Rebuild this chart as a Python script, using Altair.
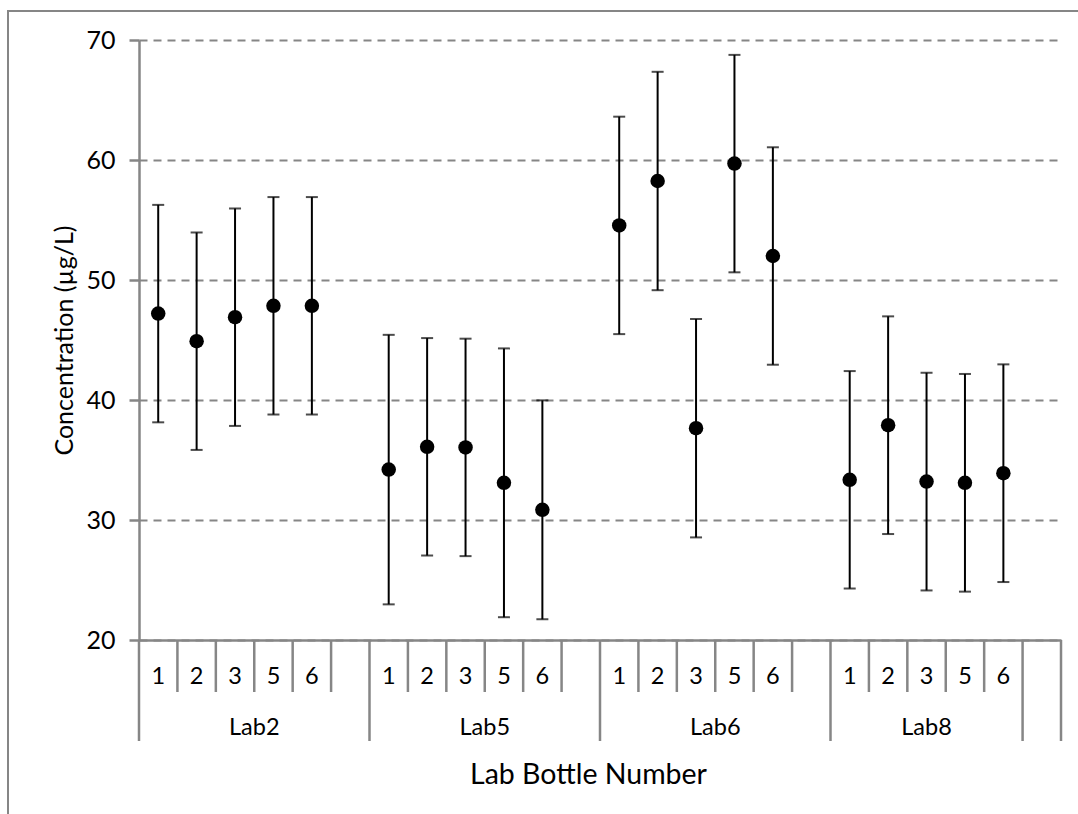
import altair as alt
import pandas as pd

# Category structure of the x axis: lab groups and the bottle slots inside them
labs = ["Lab2", "Lab5", "Lab6", "Lab8"]
bottles = ["1", "2", "3", "5", "6"]
group_slots = {
    "Lab2": ["1", "2", "3", "5", "6", ""],
    "Lab5": ["1", "2", "3", "5", "6", ""],
    "Lab6": ["1", "2", "3", "5", "6", ""],
    "Lab8": ["1", "2", "3", "5", "6"],
    "": [""],
}

# Mean concentration (µg/L) per bottle, and the half-width of each error bar
mean_lab2 = [47.2, 44.9, 46.9, 47.85, 47.85]
mean_lab5 = [34.2, 36.1, 36.05, 33.1, 30.85]
mean_lab6 = [54.55, 58.25, 37.65, 59.7, 52.0]
mean_lab8 = [33.35, 37.9, 33.2, 33.1, 33.9]

err_lab2 = [9.06, 9.06, 9.06, 9.06, 9.06]
err_lab5 = [11.23, 9.06, 9.06, 11.2, 9.12]
err_lab6 = [9.06, 9.1, 9.1, 9.06, 9.06]
err_lab8 = [9.06, 9.07, 9.07, 9.07, 9.07]

means = dict(zip(labs, [mean_lab2, mean_lab5, mean_lab6, mean_lab8]))
errs = dict(zip(labs, [err_lab2, err_lab5, err_lab6, err_lab8]))

# Lay the slots out along a continuous axis, one unit per slot
slot_rows, group_rows, bound_rows, point_rows = [], [], [], []
pos = 0
for g, slots in group_slots.items():
    bound_rows.append({"pos": pos, "kind": "group"})
    start = pos
    for k, s in enumerate(slots):
        if k > 0:
            bound_rows.append({"pos": pos, "kind": "slot"})
        slot_rows.append({"pos": pos + 0.5, "label": s})
        if g in means and s in bottles:
            i = bottles.index(s)
            m, e = means[g][i], errs[g][i]
            point_rows.append({"pos": pos + 0.5, "lab": g, "bottle": s,
                               "v": m, "lo": m - e, "hi": m + e})
        pos += 1
    group_rows.append({"pos": (start + pos) / 2, "label": g})
bound_rows.append({"pos": pos, "kind": "group"})
n_slots = pos

points = pd.DataFrame(point_rows)
slots_df = pd.DataFrame(slot_rows)
groups_df = pd.DataFrame(group_rows)
bounds_df = pd.DataFrame(bound_rows)

GRAY = "#868686"
FONT = "Lato"
W, H = 922, 600

xscale = alt.Scale(domain=[0, n_slots], nice=False, zero=False)
yscale = alt.Scale(domain=[20, 70], nice=False, zero=False)
xaxis = alt.Axis(
    title="Lab Bottle Number", labels=False, ticks=False, grid=False,
    domainColor=GRAY, domainWidth=2.5,
    titleFont=FONT, titleFontSize=28.5, titleFontWeight="normal", titleColor="black",
    titleX=449, titleY=143, titleBaseline="alphabetic",
)
yaxis = alt.Axis(
    title="Concentration (µg/L)", values=[20, 30, 40, 50, 60, 70],
    domainColor=GRAY, domainWidth=2.5, tickColor=GRAY, tickWidth=2.5, tickSize=10,
    labelFont=FONT, labelFontSize=25, labelColor="black", labelPadding=14,
    grid=True, gridColor=GRAY, gridDash=[8, 6], gridWidth=2,
    titleFont=FONT, titleFontSize=25, titleFontWeight="normal", titleColor="black",
    titleAngle=270, titleX=-67, titleY=H / 2, titleBaseline="alphabetic",
)

X = alt.X("pos:Q", scale=xscale, axis=xaxis)

# Outer chart frame
frame = alt.Chart(pd.DataFrame({"f": [0]})).mark_rect(
    fillOpacity=0, stroke=GRAY, strokeWidth=2
).encode(
    x=alt.value(-131), x2=alt.value(W + 200),
    y=alt.value(-29), y2=alt.value(H + 300),
)

# Error bars: vertical whisker plus end caps
whisker = alt.Chart(points).mark_rule(color="black", strokeWidth=2).encode(
    x=X, y=alt.Y("lo:Q", scale=yscale, axis=yaxis), y2="hi:Q"
)
cap_lo = alt.Chart(points).mark_tick(
    color="black", thickness=2, size=12, orient="horizontal"
).encode(x=X, y=alt.Y("lo:Q", scale=yscale, axis=yaxis))
cap_hi = alt.Chart(points).mark_tick(
    color="black", thickness=2, size=12, orient="horizontal"
).encode(x=X, y=alt.Y("hi:Q", scale=yscale, axis=yaxis))

dots = alt.Chart(points).mark_circle(color="black", opacity=1, size=210).encode(
    x=X, y=alt.Y("v:Q", scale=yscale, axis=yaxis),
    tooltip=["lab", "bottle", "v"],
)

# Two-level category axis below the plot
slot_ticks = alt.Chart(bounds_df).transform_filter(
    alt.datum.kind == "slot"
).mark_rule(color=GRAY, strokeWidth=2.5).encode(
    x=X, y=alt.value(H), y2=alt.value(H + 52)
)
group_ticks = alt.Chart(bounds_df).transform_filter(
    alt.datum.kind == "group"
).mark_rule(color=GRAY, strokeWidth=2.5).encode(
    x=X, y=alt.value(H), y2=alt.value(H + 101)
)
slot_text = alt.Chart(slots_df).mark_text(
    font=FONT, fontSize=23.5, color="black", baseline="alphabetic", align="center"
).encode(x=X, y=alt.value(H + 44), text="label:N")
group_text = alt.Chart(groups_df).mark_text(
    font=FONT, fontSize=23.5, color="black", baseline="alphabetic", align="center"
).encode(x=X, y=alt.value(H + 95), text="label:N")

chart = alt.layer(
    frame, whisker, cap_lo, cap_hi, dots,
    slot_ticks, group_ticks, slot_text, group_text,
).properties(
    width=W, height=H,
    autosize=alt.AutoSizeParams(type="none"),
    padding={"left": 139, "top": 40, "right": 17, "bottom": 174},
    background="white",
).configure_view(stroke=None)

chart.save("out.html", embed_options={"renderer": "svg", "actions": False})
